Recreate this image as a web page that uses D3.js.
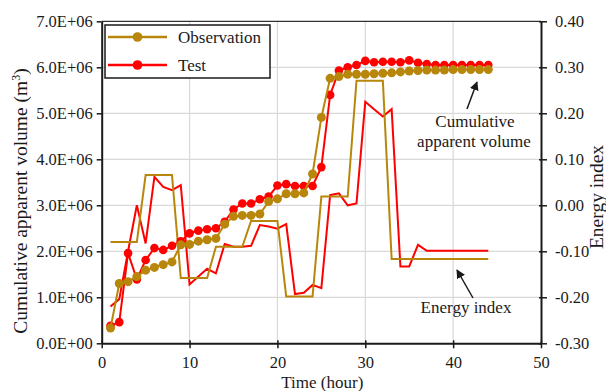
<!DOCTYPE html>
<html>
<head>
<meta charset="utf-8">
<script src="https://cdn.jsdelivr.net/npm/d3@7"></script>
<style>
  html, body { margin: 0; padding: 0; background: #fff; }
  svg { display: block; }
</style>
</head>
<body>
<div id="chart"></div>
<script>
// time in hours
const hours = [1, 2, 3, 4, 5, 6, 7, 8, 9, 10, 11, 12, 13, 14, 15, 16, 17, 18, 19, 20, 21, 22,
  23, 24, 25, 26, 27, 28, 29, 30, 31, 32, 33, 34, 35, 36, 37, 38, 39, 40, 41, 42, 43, 44];

// cumulative apparent volume, in 1e6 m3
const obsVolume = [0.33, 1.30, 1.34, 1.45, 1.59, 1.65, 1.71, 1.77, 2.14, 2.15, 2.22, 2.25, 2.28, 2.59,
  2.76, 2.78, 2.78, 2.81, 3.08, 3.14, 3.25, 3.25, 3.27, 3.68, 4.91, 5.76, 5.80, 5.85, 5.85, 5.85,
  5.86, 5.87, 5.88, 5.90, 5.92, 5.93, 5.94, 5.94, 5.94, 5.95, 5.95, 5.95, 5.95, 5.95];
const testVolume = [0.38, 0.46, 1.96, 1.39, 1.81, 2.07, 2.03, 2.12, 2.22, 2.39, 2.45, 2.48, 2.50, 2.64,
  2.91, 3.04, 3.04, 3.13, 3.19, 3.43, 3.46, 3.42, 3.42, 3.42, 3.83, 5.40, 5.93, 6.00, 6.05, 6.14,
  6.11, 6.12, 6.12, 6.11, 6.15, 6.10, 6.07, 6.05, 6.05, 6.05, 6.05, 6.05, 6.05, 6.05];

// energy index
const obsEnergy = [-0.080, -0.080, -0.080, -0.080, 0.066, 0.066, 0.066, 0.066, -0.158, -0.158, -0.158,
  -0.158, -0.090, -0.090, -0.090, -0.090, -0.034, -0.034, -0.034, -0.034, -0.198, -0.198, -0.198,
  -0.198, 0.019, 0.019, 0.019, 0.019, 0.271, 0.271, 0.271, 0.271, -0.117, -0.117, -0.117, -0.117,
  -0.117, -0.117, -0.117, -0.117, -0.117, -0.117, -0.117, -0.117];
const testEnergy = [-0.220, -0.204, -0.100, 0.000, -0.083, 0.062, 0.040, 0.033, 0.044, -0.172, -0.155,
  -0.138, -0.148, -0.084, -0.090, -0.090, -0.088, -0.043, -0.046, -0.051, -0.041, -0.193, -0.190,
  -0.173, -0.180, 0.022, 0.026, 0.000, 0.004, 0.225, 0.209, 0.193, 0.209, -0.133, -0.133, -0.086,
  -0.099, -0.099, -0.099, -0.099, -0.099, -0.099, -0.099, -0.099];

const xTicks = [0, 10, 20, 30, 40, 50];
const volTicks = [0, 1e6, 2e6, 3e6, 4e6, 5e6, 6e6, 7e6];
const energyTicks = [-0.3, -0.2, -0.1, 0, 0.1, 0.2, 0.3, 0.4];
const seriesNames = ["Observation", "Test"];

const width = 606, height = 391;
const margin = { top: 21.3, right: 65, bottom: 47.7, left: 101.7 };
const gold = "#B8860B", red = "#FF0000", ink = "#1a1a1a";
const serif = "'Liberation Serif', 'DejaVu Serif', serif";

const svg = d3.select("#chart").append("svg")
  .attr("width", width).attr("height", height)
  .attr("font-family", serif);

const x = d3.scaleLinear().domain([0, 50]).range([margin.left, width - margin.right]);
const yL = d3.scaleLinear().domain([0, 7e6]).range([height - margin.bottom, margin.top]);
const yR = d3.scaleLinear().domain([-0.3, 0.4]).range([height - margin.bottom, margin.top]);

const x0 = x.range()[0], x1 = x.range()[1];
const yb = yL.range()[0], yt = yL.range()[1];

// grid
const grid = svg.append("g").attr("stroke", "#d9d9d9").attr("stroke-width", 1.2);
grid.selectAll(".gx").data(xTicks.slice(1, -1)).enter().append("line")
  .attr("x1", d => x(d)).attr("x2", d => x(d)).attr("y1", yt).attr("y2", yb);
grid.selectAll(".gy").data(volTicks.slice(1, -1)).enter().append("line")
  .attr("x1", x0).attr("x2", x1).attr("y1", d => yL(d)).attr("y2", d => yL(d));

// top border
svg.append("line").attr("x1", x0).attr("x2", x1).attr("y1", yt).attr("y2", yt)
  .attr("stroke", "#333").attr("stroke-width", 1.2);

// axes
const fmtVol = d => d === 0 ? "0.0E+00" : (d / 1e6).toFixed(1) + "E+06";
const fmtEn = d => d3.format(".2f")(d).replace("\u2212", "-");

function styleAxis(g) {
  g.attr("font-family", serif).attr("font-size", 16.5);
  g.select(".domain").attr("stroke", ink).attr("stroke-width", 2);
  g.selectAll(".tick line").attr("stroke", ink).attr("stroke-width", 1.5);
  g.selectAll(".tick text").attr("fill", ink);
}

const gx = svg.append("g").attr("transform", `translate(0,${yb})`)
  .call(d3.axisBottom(x).tickValues(xTicks).tickSize(5).tickSizeOuter(0).tickPadding(8));
styleAxis(gx);
gx.selectAll(".tick line").attr("y1", -3);

const gl = svg.append("g").attr("transform", `translate(${x0},0)`)
  .call(d3.axisLeft(yL).tickValues(volTicks).tickFormat(fmtVol).tickSize(5).tickSizeOuter(0).tickPadding(4));
styleAxis(gl);

const gr = svg.append("g").attr("transform", `translate(${x1},0)`)
  .call(d3.axisRight(yR).tickValues(energyTicks).tickFormat(fmtEn).tickSize(6).tickSizeOuter(0).tickPadding(8));
styleAxis(gr);
gr.selectAll(".tick line").attr("x1", -2);

// axis titles
function label(sel, size) {
  return sel.attr("fill", ink).attr("font-family", serif).attr("font-size", size || 17);
}

label(svg.append("text")).attr("x", (x0 + x1) / 2 + 1).attr("y", 388)
  .attr("text-anchor", "middle").text("Time (hour)");

const lt = label(svg.append("text"), 19.5)
  .attr("transform", "translate(27,201) rotate(-90)")
  .attr("text-anchor", "middle");
lt.append("tspan").text("Cumulative apparent volume (m");
lt.append("tspan").attr("dy", -7).attr("font-size", 12).text("3");
lt.append("tspan").attr("dy", 7).text(")");

label(svg.append("text"), 19.5).attr("transform", "translate(603,197) rotate(-90)")
  .attr("text-anchor", "middle").text("Energy index");

// series
const volLine = vals => d3.line().x((d, i) => x(hours[i])).y(d => yL(d * 1e6))(vals);
const enLine = vals => d3.line().x((d, i) => x(hours[i])).y(d => yR(d))(vals);

svg.append("path").attr("d", enLine(testEnergy)).attr("fill", "none")
  .attr("stroke", red).attr("stroke-width", 2);
svg.append("path").attr("d", enLine(obsEnergy)).attr("fill", "none")
  .attr("stroke", gold).attr("stroke-width", 2);

svg.append("path").attr("d", volLine(testVolume)).attr("fill", "none")
  .attr("stroke", red).attr("stroke-width", 2);
svg.selectAll(".mt").data(testVolume).enter().append("circle")
  .attr("cx", (d, i) => x(hours[i])).attr("cy", d => yL(d * 1e6)).attr("r", 4.3).attr("fill", red);

svg.append("path").attr("d", volLine(obsVolume)).attr("fill", "none")
  .attr("stroke", gold).attr("stroke-width", 2);
svg.selectAll(".mo").data(obsVolume).enter().append("circle")
  .attr("cx", (d, i) => x(hours[i])).attr("cy", d => yL(d * 1e6)).attr("r", 4.5).attr("fill", gold);

// legend
const lg = svg.append("g");
lg.append("rect").attr("x", 105).attr("y", 25).attr("width", 165).attr("height", 53)
  .attr("fill", "#fff").attr("stroke", ink).attr("stroke-width", 1.5);
[gold, red].forEach((c, i) => {
  const yy = 37 + i * 28;
  lg.append("line").attr("x1", 108).attr("x2", 167).attr("y1", yy).attr("y2", yy)
    .attr("stroke", c).attr("stroke-width", 2.5);
  lg.append("circle").attr("cx", 137.5).attr("cy", yy).attr("r", 4.8).attr("fill", c);
  label(lg.append("text")).attr("x", 178).attr("y", yy + 6).text(seriesNames[i]);
});

// annotations
svg.append("defs").append("marker").attr("id", "ah")
  .attr("viewBox", "0 0 10 10").attr("refX", 9).attr("refY", 5)
  .attr("markerWidth", 9).attr("markerHeight", 9).attr("orient", "auto")
  .attr("markerUnits", "userSpaceOnUse")
  .append("path").attr("d", "M0,0L10,5L0,10z").attr("fill", ink);

label(svg.append("text")).attr("x", 475).attr("y", 127).attr("text-anchor", "middle").text("Cumulative");
label(svg.append("text")).attr("x", 474).attr("y", 147).attr("text-anchor", "middle").text("apparent volume");
svg.append("line").attr("x1", 467).attr("y1", 109).attr("x2", 477).attr("y2", 82)
  .attr("stroke", ink).attr("stroke-width", 1.5).attr("marker-end", "url(#ah)");

label(svg.append("text")).attr("x", 466).attr("y", 313).attr("text-anchor", "middle").text("Energy index");
svg.append("line").attr("x1", 473).attr("y1", 298).attr("x2", 457).attr("y2", 270)
  .attr("stroke", ink).attr("stroke-width", 1.5).attr("marker-end", "url(#ah)");
</script>
</body>
</html>
